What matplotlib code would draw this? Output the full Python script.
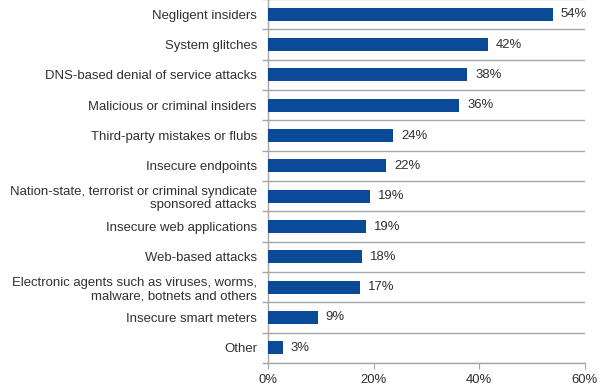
import matplotlib
matplotlib.use("Agg")
import matplotlib.pyplot as plt
import numpy as np
from matplotlib.ticker import FixedLocator, FuncFormatter

categories = [
    "Negligent insiders",
    "System glitches",
    "DNS-based denial of service attacks",
    "Malicious or criminal insiders",
    "Third-party mistakes or flubs",
    "Insecure endpoints",
    "Nation-state, terrorist or criminal syndicate\nsponsored attacks",
    "Insecure web applications",
    "Web-based attacks",
    "Electronic agents such as viruses, worms,\nmalware, botnets and others",
    "Insecure smart meters",
    "Other",
]
values = [53.9, 41.6, 37.7, 36.2, 23.7, 22.4, 19.4, 18.6, 17.8, 17.4, 9.4, 2.8]
value_labels = ["54%", "42%", "38%", "36%", "24%", "22%", "19%", "19%", "18%", "17%", "9%", "3%"]
x_ticks = [0, 20, 40, 60]

plt.rcParams['font.family'] = ['Liberation Sans', 'DejaVu Sans']
text_color = "#303030"
grid_color = "#A6A6A6"
bar_color = "#0B4A97"
fs = 9.45

fig = plt.figure(figsize=(6, 3.89), dpi=100)
ax = fig.add_axes([268/600, 26/389, 317/600, 364/389])

n = len(categories)
y = np.arange(n)
ax.barh(y, values, height=0.42, color=bar_color, zorder=3)

for yi, v, lab in zip(y, values, value_labels):
    ax.text(v + 1.5, yi, lab, va='center', ha='left', fontsize=fs, color=text_color)

ax.set_xlim(0, 60)
ax.set_ylim(n - 0.5, -0.5)
ax.set_yticks(y)
ax.set_yticklabels(categories, fontsize=fs, color=text_color)
ax.yaxis.set_minor_locator(FixedLocator(np.arange(-0.5, n, 1.0)))
ax.tick_params(axis='y', which='major', length=0, pad=8)
ax.tick_params(axis='y', which='minor', length=4, color=grid_color, width=1)
ax.grid(axis='y', which='minor', color=grid_color, linewidth=1, zorder=0)

ax.set_xticks(x_ticks)
ax.xaxis.set_major_formatter(FuncFormatter(lambda v, p: f"{int(v)}%"))
ax.tick_params(axis='x', length=4, color=grid_color, labelsize=fs, labelcolor=text_color, pad=4)

for s in ['top', 'right']:
    ax.spines[s].set_visible(False)
for s in ['left', 'bottom']:
    ax.spines[s].set_color(grid_color)
    ax.spines[s].set_linewidth(1)

for lab in ax.get_yticklabels():
    lab.set_multialignment('right')

fig.savefig("out.png", dpi=100, facecolor='white')
